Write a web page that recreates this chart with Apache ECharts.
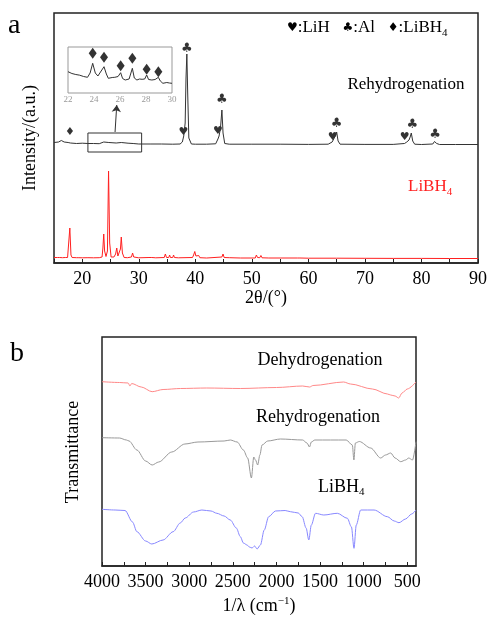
<!DOCTYPE html>
<html>
<head>
<meta charset="utf-8">
<script src="https://cdn.jsdelivr.net/npm/echarts@6/dist/echarts.min.js"></script>
<style>
html,body{margin:0;padding:0;background:#fff}
#main{width:490px;height:617px}
</style>
</head>
<body>
<div id="main"></div>
<script>
// XRD - rehydrogenated sample (2theta / intensity, a.u.)
const rehyTheta = [15,15.8,16.3,16.5,16.8,17.5,17.7,17.9,18.2,19,20,21,22,23,23.8,24.1,24.7,25,26,26.3,26.9,27.2,28.1,28.4,29,30,32,34,36,37.3,37.7,37.95,38.2,38.35,38.5,38.65,38.85,39.3,40,42,43.6,44.0,44.2,44.45,44.7,44.9,45.2,46,50,55,60,63.5,64.2,64.5,64.75,65.0,65.25,65.6,70,75,77.0,77.4,77.8,78.0,78.2,78.45,78.8,80,82.0,82.3,82.45,82.7,83.2,86,90]
const rehyInt = [120.5,121,122.5,120.5,121,120.5,122,120,120.5,119.5,119.8,119.5,119.5,119.3,121,119.3,120.5,119.3,120,119,120.5,119,119.8,119,119.5,119,119,119,118.8,119,121,127,140,185,209,170,125,119,118.8,118.8,119.2,124,127,135,153,130,119.5,118.8,118.8,118.8,118.6,118.8,121,123,127,131,122,118.8,118.6,118.6,119.5,121,123,126,130,122,118.8,118.5,119,121.5,123,119.5,118.5,118.5,118.5]

// XRD - LiBH4
const libTheta = [15,15.6,15.8,16.0,16.5,17.0,17.2,17.4,17.6,17.8,18.0,18.2,19.0,19.2,19.4,20,21,22,23,23.5,23.65,23.8,23.95,24.2,24.45,24.65,24.85,25.1,25.6,25.9,26.1,26.3,26.6,26.75,26.9,27.1,27.4,28,28.7,28.9,29.1,30,31.8,32.0,32.3,33,34.5,34.7,34.9,35.3,35.45,35.6,36.0,36.15,36.3,37,39.5,39.7,39.9,40.1,40.4,40.6,40.8,42,44.7,44.9,45.1,46,48,50.6,50.8,51.0,51.4,51.6,51.8,53,55,58.1,58.3,58.5,60,65,70,75,80,85,90]
const libInt = [5.5,5.5,7.5,5.5,5.3,5.5,7.5,5.5,7,35,8,5.5,5.3,6.8,5.3,5.2,5.3,5.2,5.3,6,15,29,12,6.5,12,92,20,6,6,9,15,7,6.5,14,26,10,5.5,5.3,6,10,6,5.2,5.5,7.5,5.5,5.2,5.5,9,5.5,5.5,8,5.5,5.5,8,5.5,5.2,5.5,8,11.5,7,6,7.5,5.3,5,6,9,5.5,5.3,5,5,8,5.5,5.3,7.5,5.2,5,5,5,7,5,4.8,4.8,4.7,4.6,4.6,4.5,4.5]

// inset 22-30 deg of the rehydrogenated pattern
const insetTheta = [22.0,22.3,22.6,22.9,23.2,23.5,23.7,23.9,24.1,24.3,24.5,24.77,24.95,25.1,25.4,25.6,25.85,26.05,26.2,26.4,26.7,26.95,27.1,27.3,27.5,27.7,27.9,28.05,28.2,28.45,28.7,28.95,29.1,29.3,29.6,29.8,30.0]
const insetInt = [21.3,19.5,18.5,17.8,16.5,15.7,20,29.7,20,17,21,26.3,19,14.7,15.5,15.7,16.5,20.3,14.5,13,14,24.7,15,13,14,13.7,14,18,13.5,13,13.5,15.7,12,9.7,10.5,10,9.7]
const insetMarks = [[23.9,39.7],[24.77,35.7],[26.05,27.3],[26.95,34.7],[28.05,23.7],[28.95,21.3]]

// phase markers on the main XRD panel
const lihMarks = [[37.9,131],[44.0,132],[64.3,126],[77.05,126]]
const alMarks = [[38.5,214],[44.7,163],[65.0,139],[78.4,138],[82.4,128]]
const libMarks = [[17.8,131]]

// FTIR (wavenumber / transmittance, a.u.)
const dehyWave = [4000,3800,3700,3680,3660,3550,3425,3300,3100,2800,2414,2000,1700,1620,1580,1230,1150,900,727,690,640,598,560,500,400]
const dehyT = [184.3,183.5,183,180,182.5,179,174.3,176.5,177.5,178,177.5,178.5,180,179,180.5,184,182,177,172,171,170,168,173,177,184]

const rehyWave = [4000,3800,3720,3690,3600,3500,3425,3350,3200,3050,2900,2600,2529,2450,2379,2330,2287,2260,2240,2215,2190,2165,2100,1954,1700,1650,1621,1600,1560,1200,1130,1112,1095,1050,920,805,750,690,640,575,520,483,440,400]
const rehyT = [128.3,128,126,125,116,105,101,104,114,122,124,125,126,124,116,108,88,109,106,101,111,121,125,127,126,123,119,124,126,126,121,106,123,124.5,118,108,111,113,108,104.3,106,108,106,124.3]

const libWave = [4000,3850,3736,3650,3600,3500,3429,3300,3184,3103,3046,2950,2855,2750,2683,2600,2529,2460,2414,2379,2337,2310,2280,2250,2222,2184,2140,2089,2011,1900,1839,1750,1705,1660,1629,1600,1552,1457,1302,1187,1140,1111,1085,1034,881,728,650,595,520,450,400]
const libT = [56.7,56,55.5,44,34.3,25,22,26,34.3,43,48,54,56,55,52.7,50,46,38,29.3,23,21,19,18,20,17,21,36,49.3,55,55.5,54.3,53,49.3,38,26,41,52.7,51,52.7,47.7,39,17.7,41,56,56,49.3,45,43.3,47,52,56]

const ftirTicks = [500,750,1000,1250,1500,1750,2000,2250,2500,2750,3000,3250,3500,3750,4000]
const ftirLabels = [500,1000,1500,2000,2500,3000,3500,4000]

const zip = (a, b) => a.map((v, i) => [v, b[i]])
const serif = '"Liberation Serif", "DejaVu Serif", serif'
const sym = '"DejaVu Sans", sans-serif'

const markerSeries = (pts, ch, size) => ({
  type: 'scatter', xAxisIndex: 0, yAxisIndex: 0, data: pts,
  symbolSize: 1, itemStyle: { color: 'transparent' }, silent: true,
  label: { show: true, position: 'inside', formatter: ch, fontSize: size, color: '#000', fontFamily: sym }
})

const chart = echarts.init(document.getElementById('main'))
chart.setOption({
  animation: false,
  backgroundColor: '#fff',
  grid: [
    { left: 54, top: 13, width: 425, height: 250, show: true, borderColor: '#222', borderWidth: 1.5 },
    { left: 68, top: 47, width: 104, height: 46, show: true, borderColor: '#999', borderWidth: 1 },
    { left: 102, top: 337, width: 314, height: 229, show: true, borderColor: '#222', borderWidth: 1.5 }
  ],
  xAxis: [
    {
      gridIndex: 0, type: 'value', min: 15, max: 90, interval: 5,
      axisLine: { show: true, lineStyle: { color: '#222', width: 1.5 } },
      axisTick: { show: true, inside: true, length: 4, lineStyle: { color: '#222' } },
      axisLabel: { formatter: v => (v % 10 === 0 ? String(v) : ''), fontFamily: serif, fontSize: 18, color: '#000', margin: 7 },
      splitLine: { show: false }
    },
    {
      gridIndex: 1, type: 'value', min: 22, max: 30, interval: 2,
      axisLine: { show: false }, axisTick: { show: false },
      axisLabel: { fontFamily: serif, fontSize: 9, color: '#999', margin: 2 },
      splitLine: { show: false }
    },
    {
      gridIndex: 2, type: 'value', min: 400, max: 4000, inverse: true,
      axisLine: { show: true, lineStyle: { color: '#222', width: 1.5 } },
      axisTick: { show: true, inside: true, length: 4, lineStyle: { color: '#222' }, customValues: ftirTicks },
      axisLabel: { customValues: ftirLabels, formatter: v => String(v), fontFamily: serif, fontSize: 18, color: '#000', margin: 7 },
      splitLine: { show: false }
    }
  ],
  yAxis: [
    { gridIndex: 0, type: 'value', min: 0, max: 250, show: false },
    { gridIndex: 1, type: 'value', min: 0, max: 46, show: false },
    { gridIndex: 2, type: 'value', min: 0, max: 229, show: false }
  ],
  series: [
    {
      name: 'Rehydrogenation', type: 'line', xAxisIndex: 0, yAxisIndex: 0,
      data: zip(rehyTheta, rehyInt), showSymbol: false,
      lineStyle: { color: '#333', width: 1 },
      markArea: {
        silent: true,
        itemStyle: { color: 'transparent', borderColor: '#333', borderWidth: 1 },
        data: [[{ coord: [21, 130] }, { coord: [30.5, 111] }]]
      },
      markLine: {
        silent: true, symbol: ['none', 'arrow'], symbolSize: 7,
        lineStyle: { color: '#333', width: 1, type: 'solid' }, label: { show: false },
        data: [[{ coord: [25.8, 131] }, { coord: [26.1, 158] }]]
      }
    },
    {
      name: 'LiBH4', type: 'line', xAxisIndex: 0, yAxisIndex: 0,
      data: zip(libTheta, libInt), showSymbol: false,
      lineStyle: { color: '#ff2020', width: 1 }
    },
    {
      name: 'inset', type: 'line', xAxisIndex: 1, yAxisIndex: 1,
      data: zip(insetTheta, insetInt), showSymbol: false,
      lineStyle: { color: '#333', width: 1 }
    },
    {
      type: 'scatter', xAxisIndex: 1, yAxisIndex: 1, data: insetMarks,
      symbol: 'diamond', symbolSize: [8, 11], itemStyle: { color: '#000' }
    },
    markerSeries(lihMarks, '♥', 11),
    markerSeries(alMarks, '♣', 13),
    markerSeries(libMarks, '♦', 11),
    {
      name: 'Dehydrogenation', type: 'line', xAxisIndex: 2, yAxisIndex: 2,
      data: zip(dehyWave, dehyT), showSymbol: false, smooth: 0.3, smoothMonotone: 'x',
      lineStyle: { color: '#f88', width: 1 }
    },
    {
      name: 'Rehydrogenation FTIR', type: 'line', xAxisIndex: 2, yAxisIndex: 2,
      data: zip(rehyWave, rehyT), showSymbol: false, smooth: 0.3, smoothMonotone: 'x',
      lineStyle: { color: '#999', width: 1 }
    },
    {
      name: 'LiBH4 FTIR', type: 'line', xAxisIndex: 2, yAxisIndex: 2,
      data: zip(libWave, libT), showSymbol: false, smooth: 0.3, smoothMonotone: 'x',
      lineStyle: { color: '#88f', width: 1 }
    }
  ],
  graphic: [
    { type: 'text', x: 8, y: 12, style: { text: 'a', font: '28px ' + serif, fill: '#000' } },
    { type: 'text', x: 10, y: 340, style: { text: 'b', font: '28px ' + serif, fill: '#000' } },
    {
      type: 'text', x: 30, y: 138, rotation: Math.PI / 2,
      style: { text: 'Intensity/(a.u.)', font: '18px ' + serif, fill: '#000', textAlign: 'center', textVerticalAlign: 'middle' }
    },
    {
      type: 'text', x: 266, y: 298,
      style: { text: '2θ/(°)', font: '18px ' + serif, fill: '#000', textAlign: 'center', textVerticalAlign: 'middle' }
    },
    {
      type: 'text', x: 287, y: 28,
      style: {
        text: '{s|♥}:LiH   {s|♣}:Al   {s|♦}:LiBH{sub|4}', textVerticalAlign: 'middle',
        fill: '#000', fontFamily: serif, fontSize: 17,
        rich: {
          s: { fontFamily: sym, fontSize: 12, fill: '#000' },
          sub: { fontFamily: serif, fontSize: 11, padding: [10, 0, 0, 0], fill: '#000' }
        }
      }
    },
    {
      type: 'text', x: 406, y: 85,
      style: { text: 'Rehydrogenation', font: '17px ' + serif, fill: '#000', textAlign: 'center', textVerticalAlign: 'middle' }
    },
    {
      type: 'text', x: 408, y: 187,
      style: {
        text: 'LiBH{sub|4}', fill: '#ff2020', fontFamily: serif, fontSize: 17, textVerticalAlign: 'middle',
        rich: { sub: { fontFamily: serif, fontSize: 11, padding: [10, 0, 0, 0], fill: '#ff2020' } }
      }
    },
    {
      type: 'text', x: 73, y: 452, rotation: Math.PI / 2,
      style: { text: 'Transmittance', font: '18px ' + serif, fill: '#000', textAlign: 'center', textVerticalAlign: 'middle' }
    },
    {
      type: 'text', x: 259, y: 606,
      style: {
        text: '1/λ (cm{sup|−1})', fill: '#000', fontFamily: serif, fontSize: 18, textAlign: 'center', textVerticalAlign: 'middle',
        rich: { sup: { fontFamily: serif, fontSize: 11, padding: [0, 0, 10, 0], fill: '#000' } }
      }
    },
    {
      type: 'text', x: 320, y: 360,
      style: { text: 'Dehydrogenation', font: '18px ' + serif, fill: '#000', textAlign: 'center', textVerticalAlign: 'middle' }
    },
    {
      type: 'text', x: 318, y: 417,
      style: { text: 'Rehydrogenation', font: '18px ' + serif, fill: '#000', textAlign: 'center', textVerticalAlign: 'middle' }
    },
    {
      type: 'text', x: 318, y: 487,
      style: {
        text: 'LiBH{sub|4}', fill: '#000', fontFamily: serif, fontSize: 18, textVerticalAlign: 'middle',
        rich: { sub: { fontFamily: serif, fontSize: 11, padding: [10, 0, 0, 0], fill: '#000' } }
      }
    }
  ]
})
</script>
</body>
</html>
